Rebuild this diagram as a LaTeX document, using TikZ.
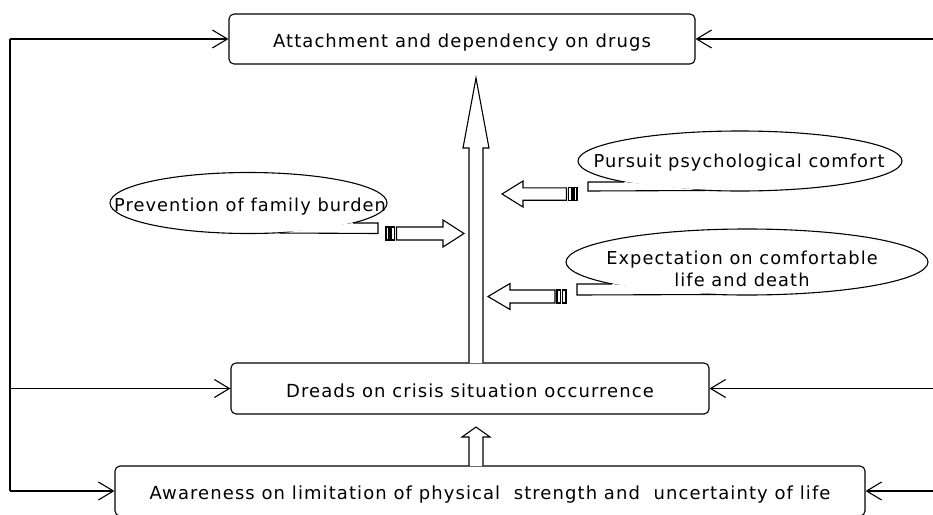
\documentclass[tikz,border=0pt]{standalone}
\usepackage{fontspec}
\setmainfont{DejaVu Sans}[LetterSpace=6]
\usetikzlibrary{arrows.meta,shapes.geometric,calc}
\begin{document}
\begin{tikzpicture}[x=1pt,y=-1pt,
  lw/.style={line width=1.1pt},
  box/.style={draw,lw,rounded corners=5pt,inner sep=0pt,text height=17pt,text depth=0pt,font=\fontsize{18}{22}\selectfont},
  link/.style={lw,-{Straight Barb[length=15pt,width=18pt,line width=1.1pt]}},
  blk/.style={draw,fill=white,lw,line join=miter},
  bubble/.style={draw,lw,ellipse,inner sep=0pt,fill=white},
  txt/.style={anchor=base,inner sep=0pt,font=\fontsize{17.8}{22.4}\selectfont,align=center}]
\useasboundingbox (0,0) rectangle (933,514);
% boxes
\node[box,minimum width=466pt,minimum height=50pt] (A) at (462,39) {Attachment and dependency on drugs};
\node[box,minimum width=478pt,minimum height=51pt] (D) at (470,388.5) {Dreads on crisis situation occurrence};
\node[box,minimum width=750pt,minimum height=50pt] (W) at (490,491) {Awareness on limitation of physical~~strength and~~uncertainty of life};
% feedback lines
\coordinate (Lx) at (10,0);
\coordinate (Rx) at (934,0);
\draw[lw] (A.west -| Lx) -- (W.west -| Lx);
\draw[link] (A.west -| Lx) -- (A.west);
\draw[link] (D.west -| Lx) -- (D.west);
\draw[link] (W.west -| Lx) -- (W.west);
\draw[link] (A.east -| Rx) -- (A.east);
\draw[link] (D.east -| Rx) -- (D.east);
\draw[link] (W.east -| Rx) -- (W.east);
% big up arrow D -> A
\coordinate (B0) at (476,363);
\coordinate (B1) at (476,78);
\draw[blk] ($(B0)+(-7,0)$) -- ($(B1)+(-7,70)$) -- ($(B1)+(-13,70)$) -- (B1) -- ($(B1)+(13,70)$) -- ($(B1)+(7,70)$) -- ($(B0)+(7,0)$);
% small up arrow W -> D
\coordinate (S0) at (476,466);
\coordinate (S1) at (476,427);
\draw[blk] ($(S0)+(-7,0)$) -- ($(S1)+(-7,10)$) -- ($(S1)+(-14,10)$) -- (S1) -- ($(S1)+(14,10)$) -- ($(S1)+(7,10)$) -- ($(S0)+(7,0)$);
% callout 1
\node[bubble,minimum width=277pt,minimum height=61pt] (E1) at (248.5,203) {};
\fill[white] (353,223) -- (378,223) -- (378,233.5) -- (280,233.2) -- cycle;
\draw[lw] (353,223) -- (378,223) -- (378,233.5) -- (280,233);
\node[txt] (T1) at (250,211.5) {Prevention of family burden};
% callout 2
\node[bubble,minimum width=324pt,minimum height=60pt] (E2) at (740,161) {};
\fill[white] (624.3,182) -- (588,182) -- (588,191) -- (705,190.8) -- cycle;
\draw[lw] (624.3,182) -- (588,182) -- (588,191) -- (705,190.5);
\node[txt] (T2) at (739,167.7) {Pursuit psychological comfort};
% callout 3
\node[bubble,minimum width=362pt,minimum height=66pt] (E3) at (747,262) {};
\fill[white] (612,284) -- (577,284) -- (577,295) -- (715,294.8) -- cycle;
\draw[lw] (612,284) -- (577,284) -- (577,295) -- (715,294.5);
\node[txt] (T3) at (742,286.7) {Expectation on comfortable\\life and death};
% striped arrow 1 (right)
\coordinate (P1) at (464,233.5);
\draw[blk] ($(P1)+(-67.5,-6.5)$) -- ($(P1)+(-21,-6.5)$) -- ($(P1)+(-21,-13.5)$) -- (P1) -- ($(P1)+(-21,13.5)$) -- ($(P1)+(-21,6.5)$) -- ($(P1)+(-67.5,6.5)$) -- cycle;
\draw[blk] ($(P1)+(-73,-6.5)$) rectangle ($(P1)+(-69.5,6.5)$);
\draw[blk] ($(P1)+(-78,-6.5)$) rectangle ($(P1)+(-75,6.5)$);
% striped arrow 2 (left)
\coordinate (P2) at (502,194);
\draw[blk] ($(P2)+(64.5,-6.2)$) -- ($(P2)+(21,-6.2)$) -- ($(P2)+(21,-13)$) -- (P2) -- ($(P2)+(21,13)$) -- ($(P2)+(21,6.2)$) -- ($(P2)+(64.5,6.2)$) -- cycle;
\draw[blk] ($(P2)+(66.5,-6.2)$) rectangle ($(P2)+(70,6.2)$);
\draw[blk] ($(P2)+(72,-6.2)$) rectangle ($(P2)+(75,6.2)$);
% striped arrow 3 (left)
\coordinate (P3) at (488,296.5);
\draw[blk] ($(P3)+(67,-6.5)$) -- ($(P3)+(22,-6.5)$) -- ($(P3)+(22,-13)$) -- (P3) -- ($(P3)+(22,13)$) -- ($(P3)+(22,6.5)$) -- ($(P3)+(67,6.5)$) -- cycle;
\draw[blk] ($(P3)+(69,-6.5)$) rectangle ($(P3)+(72.5,6.5)$);
\draw[blk] ($(P3)+(74.5,-6.5)$) rectangle ($(P3)+(78,6.5)$);
\end{tikzpicture}
\end{document}
